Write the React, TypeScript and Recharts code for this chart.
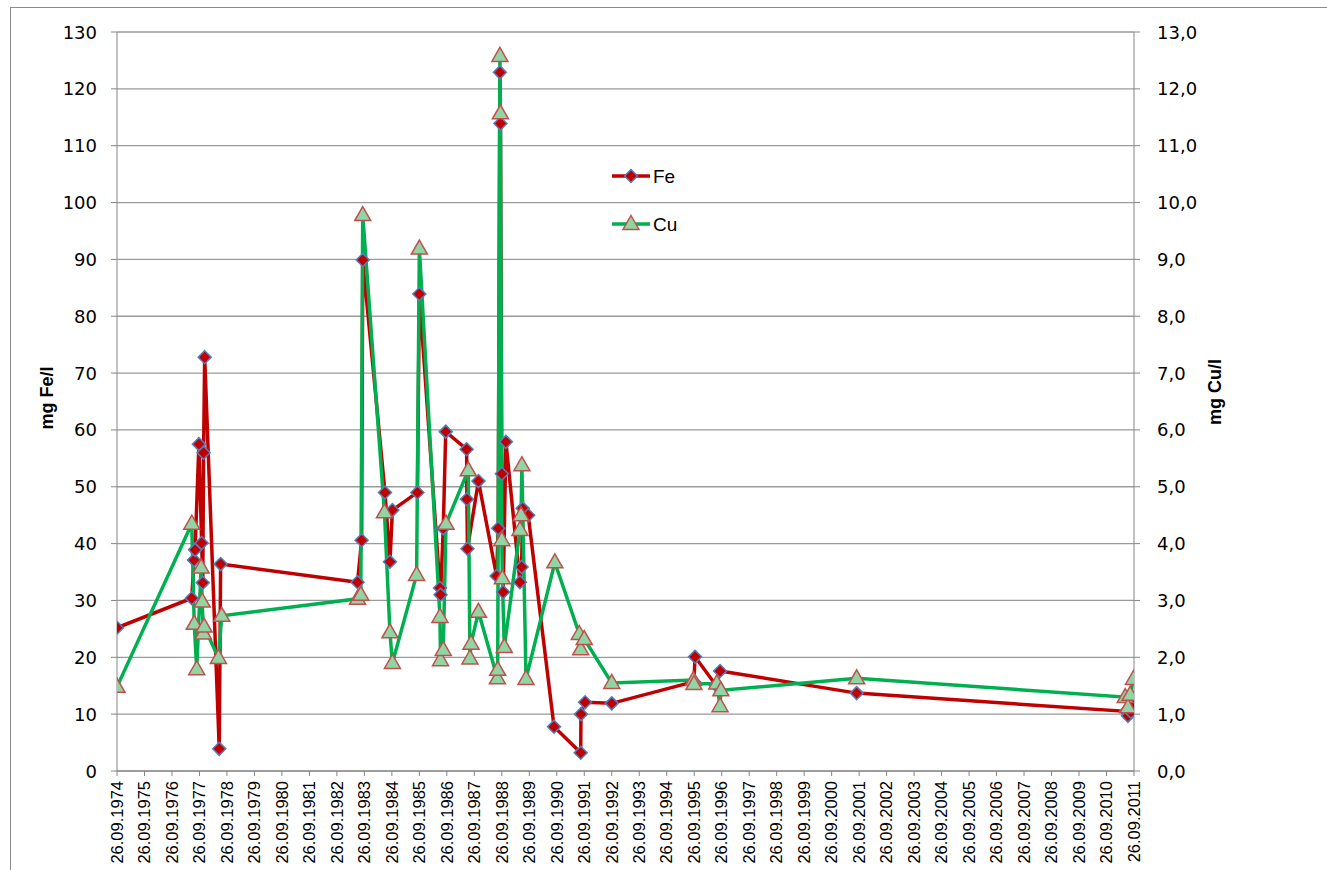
import React from 'react';
import { LineChart, Line, XAxis, YAxis, CartesianGrid, Legend } from 'recharts';

// sample dates as decimal years (26.09.1974 = 1974.74)
const feDates = [1974.74, 1977.46, 1977.54, 1977.58, 1977.72, 1977.82, 1977.86, 1977.89, 1977.93, 1978.46, 1978.51, 1983.49, 1983.64, 1983.68, 1984.49, 1984.67, 1984.76, 1985.67, 1985.74, 1986.49, 1986.51, 1986.61, 1986.7, 1987.46, 1987.47, 1987.49, 1987.89, 1988.55, 1988.61, 1988.67, 1988.69, 1988.74, 1988.79, 1988.89, 1989.4, 1989.46, 1989.5, 1989.7, 1990.64, 1991.61, 1991.62, 1991.77, 1992.74, 1995.73, 1995.77, 1996.53, 1996.68, 2001.65, 2011.45, 2011.52, 2011.63, 2011.74];
const feValues = [25.2, 30.4, 37.1, 38.9, 57.5, 40.1, 33.1, 56.0, 72.8, 3.9, 36.4, 33.2, 40.6, 89.9, 49.0, 36.8, 45.9, 49.0, 83.9, 32.2, 31.0, 42.7, 59.7, 56.6, 47.8, 39.1, 51.0, 34.3, 42.7, 122.9, 113.9, 52.3, 31.5, 57.9, 33.2, 35.9, 46.2, 45.0, 7.8, 3.2, 10.0, 12.1, 11.9, 15.7, 20.1, 15.1, 17.6, 13.7, 10.5, 9.7, 10.4, 11.8];

const cuDates = [1974.74, 1977.46, 1977.55, 1977.64, 1977.8, 1977.84, 1977.88, 1977.91, 1978.43, 1978.55, 1983.49, 1983.61, 1983.68, 1984.47, 1984.67, 1984.76, 1985.64, 1985.74, 1986.49, 1986.51, 1986.61, 1986.71, 1987.52, 1987.58, 1987.62, 1987.89, 1988.58, 1988.59, 1988.67, 1988.69, 1988.74, 1988.76, 1988.83, 1989.4, 1989.44, 1989.47, 1989.62, 1990.67, 1991.56, 1991.61, 1991.74, 1992.74, 1995.71, 1995.73, 1996.56, 1996.68, 1996.71, 2001.65, 2011.42, 2011.52, 2011.6, 2011.72];
const cuValues = [1.48, 4.35, 2.59, 1.79, 3.58, 2.98, 2.42, 2.54, 1.99, 2.73, 3.03, 3.1, 9.78, 4.55, 2.44, 1.9, 3.45, 9.19, 2.71, 1.95, 2.13, 4.35, 5.29, 1.98, 2.24, 2.8, 1.63, 1.78, 12.58, 11.57, 4.06, 3.39, 2.18, 4.24, 4.5, 5.38, 1.62, 3.67, 2.41, 2.14, 2.32, 1.55, 1.6, 1.53, 1.54, 1.14, 1.42, 1.63, 1.3, 1.12, 1.34, 1.62];

const tickYears = [1974, 1975, 1976, 1977, 1978, 1979, 1980, 1981, 1982, 1983, 1984, 1985, 1986, 1987, 1988, 1989, 1990, 1991, 1992, 1993, 1994, 1995, 1996, 1997, 1998, 1999, 2000, 2001, 2002, 2003, 2004, 2005, 2006, 2007, 2008, 2009, 2010, 2011];
const feTicks = [0, 10, 20, 30, 40, 50, 60, 70, 80, 90, 100, 110, 120, 130];
const cuTicks = [0, 1, 2, 3, 4, 5, 6, 7, 8, 9, 10, 11, 12, 13];

const feData = feDates.map((t, i) => ({ t, fe: feValues[i] }));
const cuData = cuDates.map((t, i) => ({ t, cu: cuValues[i] }));
const xTicks = tickYears.map((y) => y + 0.74);

const RED = '#C00000';
const GREEN = '#00B050';
const AXIS = '#868686';

const Diamond = ({ cx, cy }: any) => {
  if (cx == null || cy == null) return null;
  const r = 6.5;
  return (
    <polygon
      points={`${cx},${cy - r} ${cx + r},${cy} ${cx},${cy + r} ${cx - r},${cy}`}
      fill={RED}
      stroke="#4F81BD"
      strokeWidth={1.5}
    />
  );
};

const Triangle = ({ cx, cy }: any) => {
  if (cx == null || cy == null) return null;
  return (
    <polygon
      points={`${cx},${cy - 8.5} ${cx + 8},${cy + 5.5} ${cx - 8},${cy + 5.5}`}
      fill="#92D5A4"
      stroke="#C0504D"
      strokeWidth={1.5}
    />
  );
};

const LeftTick = ({ x, y, payload }: any) => (
  <text x={x} y={y} dy={6.5} textAnchor="end" fontFamily="DejaVu Sans" fontSize={18} fill="#000">
    {payload.value}
  </text>
);

const RightTick = ({ x, y, payload }: any) => (
  <text x={x} y={y} dy={6.5} textAnchor="start" fontFamily="DejaVu Sans" fontSize={18} fill="#000">
    {Number(payload.value).toFixed(1).replace('.', ',')}
  </text>
);

const DateTick = ({ x, y, payload }: any) => {
  const year = Math.round(payload.value - 0.74);
  return (
    <text
      x={x}
      y={y}
      dy="0.35em"
      transform={`rotate(-90, ${x}, ${y})`}
      textAnchor="end"
      fontFamily="Liberation Sans"
      fontSize={16.5}
      fill="#000"
    >
      {`26.09.${year}`}
    </text>
  );
};

const LegendBox = () => (
  <svg width={90} height={84} style={{ overflow: 'visible' }}>
    <line x1={0} y1={16} x2={38} y2={16} stroke={RED} strokeWidth={3.5} />
    <Diamond cx={19} cy={16} />
    <text x={41} y={16} dy={6.5} fontFamily="Liberation Sans" fontSize={19} fill="#000">Fe</text>
    <line x1={0} y1={64} x2={38} y2={64} stroke={GREEN} strokeWidth={3.5} />
    <Triangle cx={19} cy={64} />
    <text x={41} y={64} dy={6.5} fontFamily="Liberation Sans" fontSize={19} fill="#000">Cu</text>
  </svg>
);

const titleStyle = (left: number, top: number): React.CSSProperties => ({
  position: 'absolute',
  left,
  top,
  transform: 'translate(-50%, -50%) rotate(-90deg)',
  fontFamily: 'Liberation Sans',
  fontWeight: 'bold',
  fontSize: 18,
  whiteSpace: 'nowrap',
  color: '#000',
});

export default function App() {
  return (
    <div style={{ position: 'fixed', left: 0, top: 0, width: 1327, height: 870, overflow: 'hidden', background: '#fff' }}>
      <div style={{ position: 'absolute', left: 10, top: 7, width: 1400, height: 900, border: '1px solid #8a8a8a' }} />
      <div style={{ position: 'absolute', left: 0, top: 0 }}>
        <LineChart width={1327} height={870} margin={{ top: 32, right: 133, bottom: 4, left: 57 }}>
          <CartesianGrid yAxisId="left" vertical={false} stroke="#9a9a9a" strokeWidth={1.3} />
          <XAxis
            dataKey="t"
            type="number"
            domain={[1974.74, 2011.74]}
            ticks={xTicks}
            interval={0}
            allowDataOverflow
            height={95}
            stroke={AXIS}
            tickSize={5}
            tickMargin={5}
            tick={<DateTick />}
          />
          <YAxis
            yAxisId="left"
            domain={[0, 130]}
            ticks={feTicks}
            interval={0}
            width={60}
            stroke={AXIS}
            tickSize={6}
            tickMargin={14}
            tick={<LeftTick />}
          />
          <YAxis
            yAxisId="right"
            orientation="right"
            domain={[0, 13]}
            ticks={cuTicks}
            interval={0}
            width={60}
            stroke={AXIS}
            tickSize={6}
            tickMargin={17}
            tick={<RightTick />}
          />
          <Legend
            layout="vertical"
            align="center"
            verticalAlign="middle"
            content={() => <LegendBox />}
            wrapperStyle={{ left: 612, top: 160, width: 90, height: 84 }}
          />
          <Line
            yAxisId="left"
            data={feData}
            dataKey="fe"
            name="Fe"
            type="linear"
            stroke={RED}
            strokeWidth={3.5}
            dot={<Diamond />}
            activeDot={false}
            isAnimationActive={false}
          />
          <Line
            yAxisId="right"
            data={cuData}
            dataKey="cu"
            name="Cu"
            type="linear"
            stroke={GREEN}
            strokeWidth={3.5}
            dot={<Triangle />}
            activeDot={false}
            isAnimationActive={false}
          />
        </LineChart>
      </div>
      <div style={titleStyle(47, 398)}>mg Fe/l</div>
      <div style={titleStyle(1215, 392)}>mg Cu/l</div>
    </div>
  );
}
